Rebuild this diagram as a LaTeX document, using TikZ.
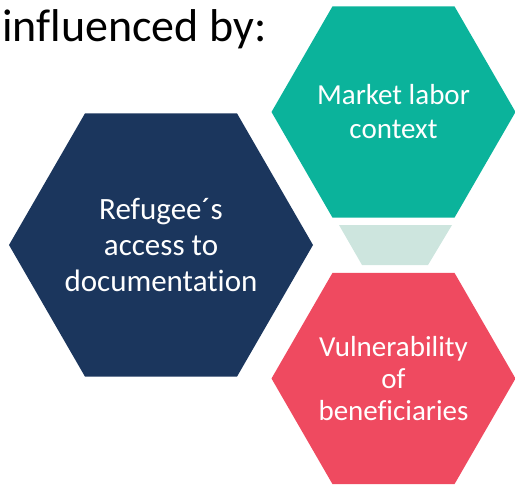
\documentclass[tikz,border=0pt]{standalone}
\usepackage{fontspec}
\setmainfont{Carlito}[Ligatures=NoCommon]
\definecolor{tealc}{HTML}{0BB39B}
\definecolor{navyc}{HTML}{1B365D}
\definecolor{pinkc}{HTML}{EF4A60}
\definecolor{mintc}{HTML}{CDE5DE}
\tikzset{
  hextext/.style={inner sep=0pt, text=white, align=center},
}
\newcommand{\hexfill}[3]{\fill[#1] (#2) +(0:#3) -- +(60:#3) -- +(120:#3) -- +(180:#3) -- +(240:#3) -- +(300:#3) -- cycle;}
\begin{document}
\begin{tikzpicture}[x=1pt,y=-1pt]
\useasboundingbox (0,0) rectangle (515,487);
\node[anchor=base west, inner sep=0pt, font=\fontsize{46}{52}\selectfont] (title) at (2,42) {influenced by:};
\hexfill{navyc}{161,245}{152}
\hexfill{tealc}{393.5,112}{122}
\hexfill{pinkc}{393.5,378.5}{122}
\fill[mintc] (339,225) -- (452,225) -- (428,265) -- (362,265) -- cycle;
\node[hextext, font=\fontsize{31}{36}\selectfont] (refugee) at (161,245) {Refugee´s\\access to\\documentation};
\node[hextext, font=\fontsize{29}{34}\selectfont] (market) at (393.5,112) {Market labor\\context};
\node[hextext, font=\fontsize{29}{32}\selectfont] (vuln) at (393.5,378.5) {Vulnerability\\of\\beneficiaries};
\end{tikzpicture}
\end{document}
